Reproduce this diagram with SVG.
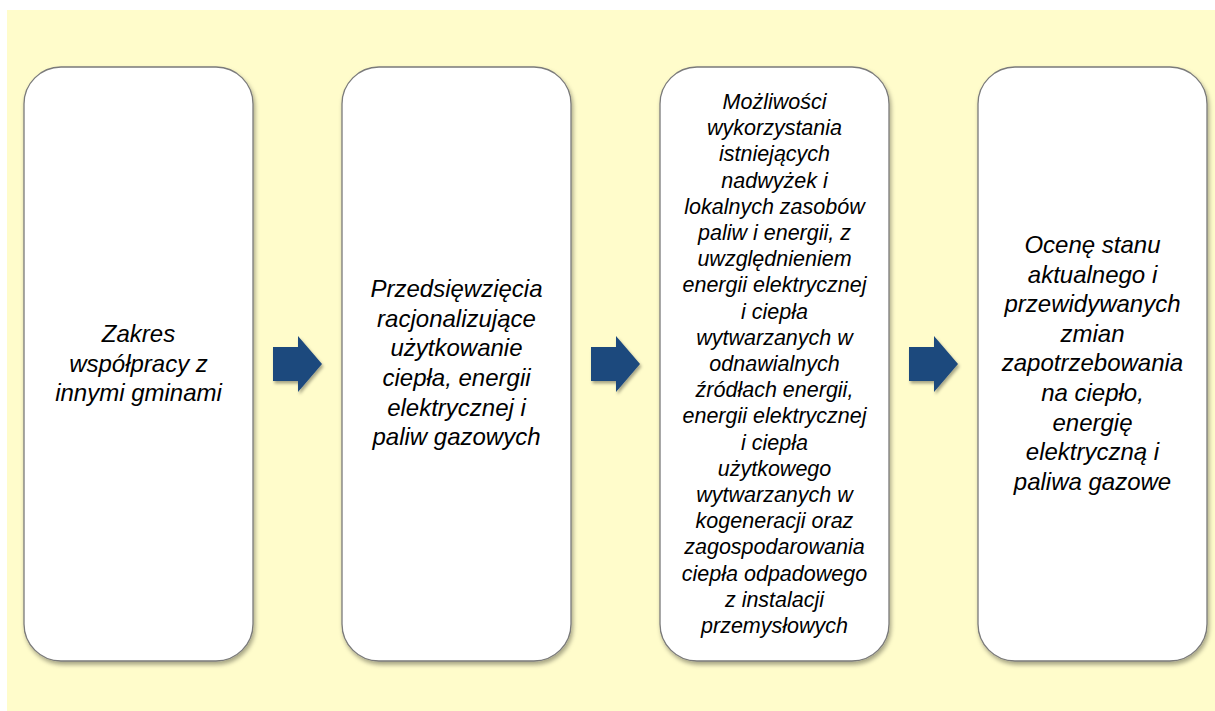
<svg xmlns="http://www.w3.org/2000/svg" width="1215" height="711" viewBox="0 0 1215 711">
  <style>
    .box { fill: #ffffff; stroke: #7a7a7a; stroke-width: 1.3; filter: url(#shadow); }
    .arrow { fill: #1f497d; filter: url(#ashadow); }
    .t { font-family: "Liberation Sans", Arial, sans-serif; font-style: italic; font-size: 24px; fill: #000; text-anchor: middle; }
    .s { font-size: 21.5px; }
  </style>
  <defs>
    <filter id="shadow" x="-10%" y="-10%" width="125%" height="125%">
      <feDropShadow dx="1.5" dy="3" stdDeviation="2.2" flood-color="#000" flood-opacity="0.35"/>
    </filter>
    <filter id="ashadow" x="-20%" y="-20%" width="150%" height="150%">
      <feDropShadow dx="1.5" dy="2.5" stdDeviation="1.8" flood-color="#000" flood-opacity="0.35"/>
    </filter>
  </defs>
  <rect x="7" y="10" width="1208" height="701" fill="#fffccb"/>

  <g id="connectors">
    <polygon class="arrow" points="273,347 298,347 298,336 322,364 298,392 298,381 273,381"/>
    <polygon class="arrow" points="591,347 616,347 616,336 640,364 616,392 616,381 591,381"/>
    <polygon class="arrow" points="909,347 934,347 934,336 958,364 934,392 934,381 909,381"/>
  </g>

  <g id="node1">
    <rect class="box" x="24" y="67" width="229" height="594" rx="37" ry="37"/>
    <text class="t" x="138.5" y="342">Zakres</text>
    <text class="t" x="138.5" y="371.5">współpracy z</text>
    <text class="t" x="138.5" y="401">innymi gminami</text>
  </g>

  <g id="node2">
    <rect class="box" x="342" y="67" width="229" height="594" rx="37" ry="37"/>
    <text class="t" x="456.5" y="297">Przedsięwzięcia</text>
    <text class="t" x="456.5" y="327">racjonalizujące</text>
    <text class="t" x="456.5" y="356">użytkowanie</text>
    <text class="t" x="456.5" y="386">ciepła, energii</text>
    <text class="t" x="456.5" y="416">elektrycznej i</text>
    <text class="t" x="456.5" y="445">paliw gazowych</text>
  </g>

  <g id="node3">
    <rect class="box" x="660" y="67" width="229" height="594" rx="37" ry="37"/>
    <text class="t s" x="774.5" y="109">Możliwości</text>
    <text class="t s" x="774.5" y="135.2">wykorzystania</text>
    <text class="t s" x="774.5" y="161.4">istniejących</text>
    <text class="t s" x="774.5" y="187.6">nadwyżek i</text>
    <text class="t s" x="774.5" y="213.8">lokalnych zasobów</text>
    <text class="t s" x="774.5" y="240">paliw i energii, z</text>
    <text class="t s" x="774.5" y="266.2">uwzględnieniem</text>
    <text class="t s" x="774.5" y="292.4">energii elektrycznej</text>
    <text class="t s" x="774.5" y="318.6">i ciepła</text>
    <text class="t s" x="774.5" y="344.8">wytwarzanych w</text>
    <text class="t s" x="774.5" y="371">odnawialnych</text>
    <text class="t s" x="774.5" y="397.2">źródłach energii,</text>
    <text class="t s" x="774.5" y="423.4">energii elektrycznej</text>
    <text class="t s" x="774.5" y="449.6">i ciepła</text>
    <text class="t s" x="774.5" y="475.8">użytkowego</text>
    <text class="t s" x="774.5" y="502">wytwarzanych w</text>
    <text class="t s" x="774.5" y="528.2">kogeneracji oraz</text>
    <text class="t s" x="774.5" y="554.4">zagospodarowania</text>
    <text class="t s" x="774.5" y="580.6">ciepła odpadowego</text>
    <text class="t s" x="774.5" y="606.8">z instalacji</text>
    <text class="t s" x="774.5" y="633">przemysłowych</text>
  </g>

  <g id="node4">
    <rect class="box" x="978" y="67" width="229" height="594" rx="37" ry="37"/>
    <text class="t" x="1092.5" y="253">Ocenę stanu</text>
    <text class="t" x="1092.5" y="283">aktualnego i</text>
    <text class="t" x="1092.5" y="312">przewidywanych</text>
    <text class="t" x="1092.5" y="342">zmian</text>
    <text class="t" x="1092.5" y="371">zapotrzebowania</text>
    <text class="t" x="1092.5" y="401">na ciepło,</text>
    <text class="t" x="1092.5" y="431">energię</text>
    <text class="t" x="1092.5" y="460">elektryczną i</text>
    <text class="t" x="1092.5" y="490">paliwa gazowe</text>
  </g>
</svg>
